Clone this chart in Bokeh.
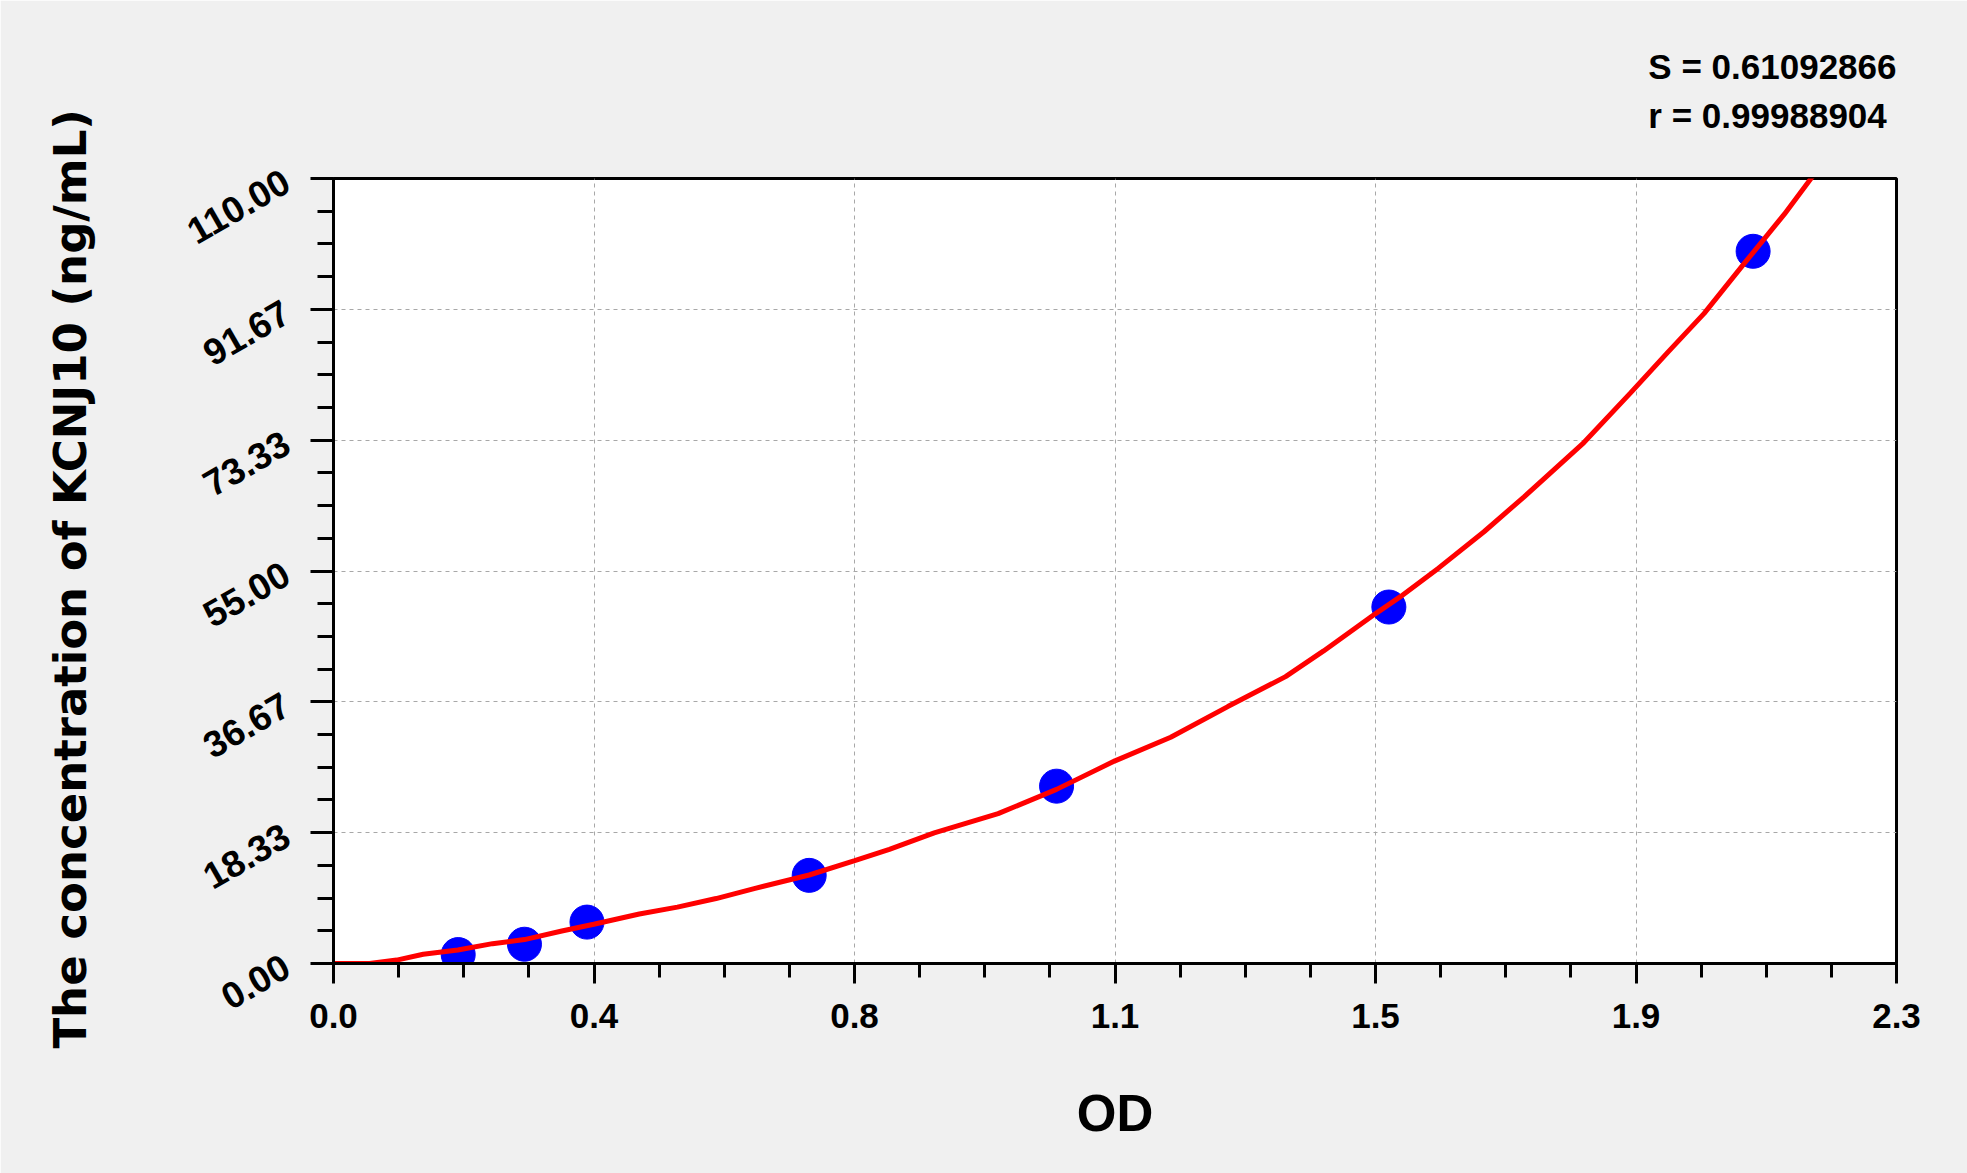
import math
from bokeh.plotting import figure
from bokeh.models import FixedTicker, Range1d, Title
from bokeh.embed import file_html
from bokeh.resources import INLINE

# Standard points (OD vs concentration)
od = [0.1835, 0.281, 0.373, 0.700, 1.064, 1.553, 2.089]
conc = [1.25, 2.7, 5.8, 12.35, 24.85, 49.95, 99.8]

# Fitted curve
curve_od = [0.0, 0.053, 0.093, 0.132, 0.183, 0.234, 0.281, 0.336, 0.383, 0.450,
            0.506, 0.563, 0.619, 0.700, 0.767, 0.818, 0.884, 0.978, 1.064, 1.150,
            1.232, 1.316, 1.401, 1.457, 1.533, 1.570, 1.626, 1.693, 1.752, 1.840,
            1.909, 1.963, 2.017, 2.076, 2.135, 2.182]
curve_conc = [0.0, 0.0, 0.48, 1.29, 1.9, 2.78, 3.35, 4.55, 5.5, 6.94,
              7.9, 9.1, 10.5, 12.4, 14.4, 16.0, 18.3, 21.0, 24.4, 28.4,
              31.7, 36.0, 40.2, 43.8, 49.0, 51.4, 55.4, 60.5, 65.4, 73.0,
              80.0, 85.6, 91.1, 98.1, 105.0, 111.0]

x_tick_labels = ["0.0", "0.4", "0.8", "1.1", "1.5", "1.9", "2.3"]
y_tick_labels = ["0.00", "18.33", "36.67", "55.00", "73.33", "91.67", "110.00"]

x_max = 2.3
y_max = 110.0

fit_s = "S = 0.61092866"
fit_r = "r = 0.99988904"
x_title = "OD"
y_title = "The concentration of  KCNJ10 (ng/mL)"

FONT = "Liberation Sans"

p = figure(width=1967, height=1173, output_backend="svg", toolbar_location=None,
           x_range=Range1d(0, x_max), y_range=Range1d(0, y_max),
           min_border_left=333, min_border_right=71,
           min_border_top=178, min_border_bottom=210)

p.background_fill_color = "white"
p.border_fill_color = "#f0f0f0"
p.outline_line_color = "black"
p.outline_line_width = 3

n = len(x_tick_labels) - 1
x_major = [x_max * i / n for i in range(n + 1)]
x_minor = [x_max * i / (4 * n) for i in range(4 * n + 1)]
y_major = [y_max * i / n for i in range(n + 1)]
y_minor = [y_max * i / (4 * n) for i in range(4 * n + 1)]

p.xaxis.ticker = FixedTicker(ticks=x_major, minor_ticks=x_minor)
p.yaxis.ticker = FixedTicker(ticks=y_major, minor_ticks=y_minor)
p.xaxis.major_label_overrides = {t: l for t, l in zip(x_major, x_tick_labels)}
p.yaxis.major_label_overrides = {t: l for t, l in zip(y_major, y_tick_labels)}

for ax in (p.xaxis, p.yaxis):
    ax.axis_line_color = "black"
    ax.axis_line_width = 3
    ax.major_tick_line_color = "black"
    ax.major_tick_line_width = 3
    ax.minor_tick_line_color = "black"
    ax.minor_tick_line_width = 3
    ax.major_tick_in = 0
    ax.minor_tick_in = 0
    ax.major_label_text_font = FONT
    ax.major_label_text_font_style = "bold"
    ax.major_label_text_color = "black"
    ax.axis_label_text_color = "black"
    ax.axis_label_text_font_style = "bold"

p.xaxis.major_label_text_font_size = "35px"
p.yaxis.major_label_text_font_size = "37px"
p.xaxis.major_tick_out = 20
p.xaxis.minor_tick_out = 14
p.xaxis.major_label_standoff = 20
p.yaxis.major_tick_out = 23
p.yaxis.minor_tick_out = 16
p.yaxis.major_label_standoff = 24
p.yaxis.major_label_orientation = math.pi / 6

p.xaxis.axis_label = x_title
p.xaxis.axis_label_text_font = FONT
p.xaxis.axis_label_text_font_size = "51px"
p.xaxis.axis_label_standoff = 54

p.yaxis.axis_label = y_title
p.yaxis.axis_label_text_font = "DejaVu Sans"
p.yaxis.axis_label_text_font_size = "45px"
p.yaxis.axis_label_standoff = 77

p.xgrid.ticker = FixedTicker(ticks=x_major)
p.ygrid.ticker = FixedTicker(ticks=y_major)
for g in (p.xgrid, p.ygrid):
    g.grid_line_color = "#a8a8a8"
    g.grid_line_dash = "4 4"
    g.grid_line_width = 1

p.scatter(od, conc, size=34, fill_color="#0000ff", line_color="#0000ff")
p.line(curve_od, curve_conc, line_color="#ff0000", line_width=5)

# fit statistics above the frame, right-aligned, two lines
p.add_layout(Title(text=fit_s + "\n" + fit_r, align="right", text_font=FONT,
                   text_font_style="bold", text_font_size="35px",
                   text_line_height=1.28, text_color="black", standoff=86), "above")

open("out.html", "w").write(file_html(p, INLINE))
